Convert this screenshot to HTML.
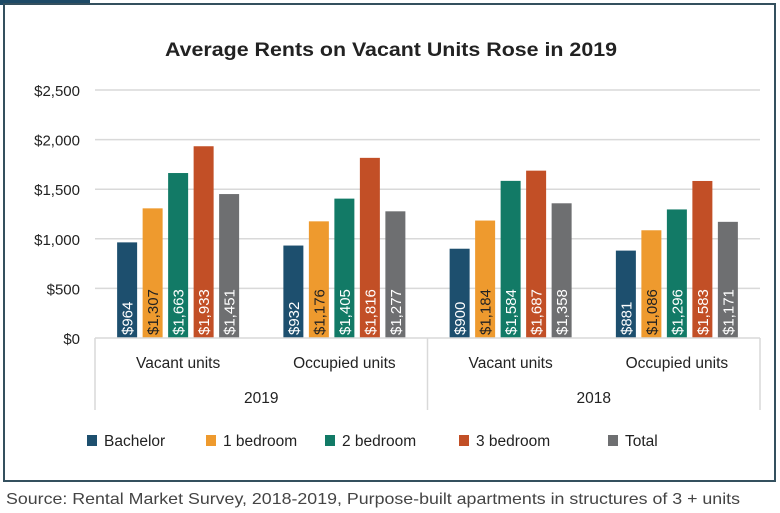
<!DOCTYPE html>
<html><head><meta charset="utf-8"><style>
body{margin:0;background:#fff;}
svg{display:block;font-family:"Liberation Sans",sans-serif;}
</style></head><body>
<svg width="780" height="513" viewBox="0 0 780 513">
<rect x="0" y="0" width="90" height="5" fill="#1d4a66"/>
<rect x="4" y="4" width="771" height="477" fill="none" stroke="#34505e" stroke-width="2"/>
<text x="165" y="56" font-size="19" font-weight="bold" fill="#222" textLength="452" lengthAdjust="spacingAndGlyphs">Average Rents on Vacant Units Rose in 2019</text>
<g id="grid"></g><g id="bars"></g><g id="axis"></g><g id="legend"></g>
<text x="6" y="504" font-size="16" fill="#444" textLength="734" lengthAdjust="spacingAndGlyphs">Source: Rental Market Survey, 2018-2019, Purpose-built apartments in structures of 3 + units</text>
</svg>
<script>
const categories=["Vacant units","Occupied units","Vacant units","Occupied units"];
const years=["2019","2018"];
const seriesNames=["Bachelor","1 bedroom","2 bedroom","3 bedroom","Total"];
const bachelor=[964,932,900,881];
const oneBed=[1307,1176,1184,1086];
const twoBed=[1663,1405,1584,1296];
const threeBed=[1933,1816,1687,1583];
const total=[1451,1277,1358,1171];
const yTicks=[0,500,1000,1500,2000,2500];
const series=[bachelor,oneBed,twoBed,threeBed,total];
const colors=["#1d4f6e","#ee9a2e","#127a66","#c24f26","#6e6f71"];
const textColors=["#fff","#222","#fff","#fff","#fff"];
const NS="http://www.w3.org/2000/svg";
const X0=95,X1=760,Y0=338,Y1=90,YMAX=2500;
const gw=(X1-X0)/categories.length;
const y=v=>Y0-(v/YMAX)*(Y0-Y1);
const bw=20,pitch=25.5;
function mk(t,a,p){const e=document.createElementNS(NS,t);for(const k in a)e.setAttribute(k,a[k]);document.getElementById(p).appendChild(e);return e;}
const fmt=v=>"$"+v.toLocaleString("en-US");
yTicks.forEach(v=>{
 if(v>0){const l=mk("line",{x1:X0,x2:X1,y1:y(v),y2:y(v),stroke:"#d9d9d9","stroke-width":1.5},"grid");
 
 }
 const t=mk("text",{x:80,y:y(v)+6,"text-anchor":"end","font-size":15,fill:"#222"},"grid");t.textContent=fmt(v);
 
 
});
categories.forEach((c,i)=>{
 const cx=X0+gw*(i+0.5);
 series.forEach((s,j)=>{
  const bx=cx+(j-2)*pitch-bw/2;
  const r=mk("rect",{x:bx,y:y(s[i]),width:bw,height:Y0-y(s[i]),fill:colors[j]},"bars");
  
  
  const t=mk("text",{x:0,y:0,transform:`translate(${bx+bw/2+5.5},${Y0-3}) rotate(-90)`,"font-size":15,fill:textColors[j]},"bars");
  t.textContent=fmt(s[i]);
  
  
 });
 const t=mk("text",{x:cx,y:368,"text-anchor":"middle","font-size":15.5,fill:"#222"},"axis");t.textContent=c;
 
 
});
const ax=mk("line",{x1:X0,x2:X1,y1:Y0,y2:Y0,stroke:"#d9d9d9","stroke-width":1.5},"axis");


[X0,(X0+X1)/2,X1].forEach(x=>{const l=mk("line",{x1:x,x2:x,y1:Y0,y2:410,stroke:"#d9d9d9","stroke-width":1.5},"axis");
 
 });
years.forEach((yr,i)=>{const t=mk("text",{x:X0+gw*(2*i+1),y:403,"text-anchor":"middle","font-size":15.5,fill:"#222"},"axis");t.textContent=yr;
 
 });
const lx=[87,206,325,459,608];
seriesNames.forEach((n,j)=>{
 const r=mk("rect",{x:lx[j],y:435,width:10,height:11,fill:colors[j]},"legend");
 
 
 const t=mk("text",{x:lx[j]+17,y:446,"font-size":15.5,fill:"#222"},"legend");t.textContent=n;
 
 
});
</script>
</body></html>
